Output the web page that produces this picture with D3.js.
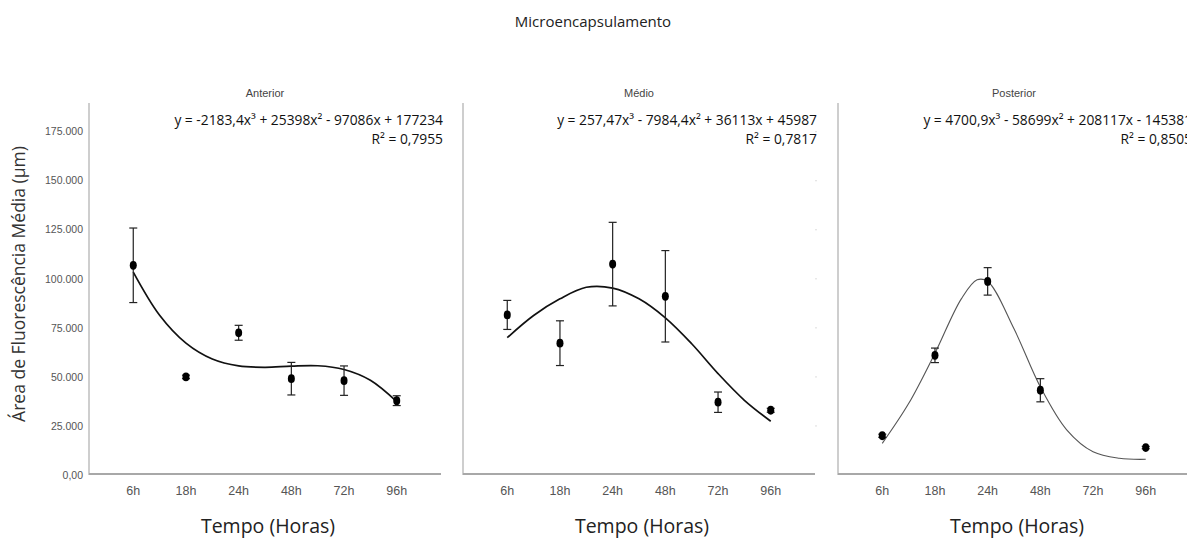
<!DOCTYPE html>
<html>
<head>
<meta charset="utf-8">
<script src="https://cdn.jsdelivr.net/npm/d3@7"></script>
<style>
  body { margin: 0; background: #fff; }
  svg { display: block; }
</style>
</head>
<body>
<svg id="chart" width="1187" height="538"></svg>
<script>
// Data
const timeLabels = ["6h", "18h", "24h", "48h", "72h", "96h"];
const yTicks = [0, 25000, 50000, 75000, 100000, 125000, 150000, 175000];

const anteriorMean = [106900, 50000, 72500, 49100, 48100, 37900];
const anteriorErr = [19000, 900, 3800, 8300, 7500, 2500];
const medioMean = [81600, 67200, 107500, 91100, 37100, 33000];
const medioErr = [7400, 11400, 21300, 23300, 5200, 1000];
const posteriorMean = [20000, 61000, 98700, 43200, null, 14000];
const posteriorErr = [800, 3700, 7000, 5900, null, 600];

// Trend curves (position in category steps from 6h, value)
const anteriorTrendX = [0, 0.5, 1, 1.5, 2, 2.5, 3, 3.5, 4, 4.5, 5];
const anteriorTrendY = [103400, 81400, 67200, 59100, 55600, 54900, 55500, 55700, 53800, 48300, 37400];
const medioTrendX = [0, 0.5, 1, 1.5, 2, 2.5, 3, 3.5, 4, 4.5, 5];
const medioTrendY = [70000, 81300, 89800, 95700, 95300, 89800, 80100, 66900, 51700, 38100, 27400];
const posteriorTrendX = [0, 0.5, 1, 1.5, 1.8, 2, 2.5, 3, 3.5, 4, 4.5, 5];
const posteriorTrendY = [16100, 36400, 62100, 89800, 99500, 98700, 74500, 44900, 23000, 11800, 8500, 8000];

const panelTitles = ["Anterior", "Médio", "Posterior"];
const equations = [
    "y = -2183,4x³ + 25398x² - 97086x + 177234",
    "y = 257,47x³ - 7984,4x² + 36113x + 45987",
    "y = 4700,9x³ - 58699x² + 208117x - 145381"
];
const r2Labels = ["R² = 0,7955", "R² = 0,7817", "R² = 0,8505"];

const svg = d3.select("#chart");
const panelX = [89, 463, 838];
const panelW = 352;
const yTop = 103;
const yBottom = 475;

const y = d3.scaleLinear().domain([0, 175000]).range([yBottom, 131.7]);
const x = d3.scalePoint().domain(timeLabels).range([0, panelW]).padding(0.84);
const step = x.step();

const panels = [
    { mean: anteriorMean, err: anteriorErr, tx: anteriorTrendX, ty: anteriorTrendY, lw: 1.7, lc: "#111" },
    { mean: medioMean, err: medioErr, tx: medioTrendX, ty: medioTrendY, lw: 1.7, lc: "#111" },
    { mean: posteriorMean, err: posteriorErr, tx: posteriorTrendX, ty: posteriorTrendY, lw: 1.1, lc: "#555" }
];

const narrow = "'Liberation Sans Narrow', 'Liberation Sans', Arial, sans-serif";

// Main title
svg.append("text")
    .attr("x", 593).attr("y", 27)
    .attr("text-anchor", "middle")
    .style("font-family", "'Open Sans', sans-serif")
    .style("font-size", "15px")
    .style("fill", "#222")
    .text("Microencapsulamento");

// Y axis title
svg.append("text")
    .attr("transform", "translate(25,284) rotate(-90)")
    .attr("text-anchor", "middle")
    .style("font-family", "'Open Sans', sans-serif")
    .style("font-size", "17.5px")
    .style("fill", "#333")
    .text("Área de Fluorescência Média (µm)");

// Y tick labels (first panel only)
svg.append("g").selectAll("text")
    .data(yTicks)
    .enter().append("text")
    .attr("x", 83)
    .attr("y", d => y(d))
    .attr("dy", "0.35em")
    .attr("text-anchor", "end")
    .style("font-family", narrow)
    .style("font-size", "10.5px")
    .style("fill", "#555")
    .text(d => d === 0 ? "0,00" : d3.format(",")(d).replace(/,/g, "."));

// faint leftover ticks on the right of the middle panel
svg.append("g").selectAll("line")
    .data(yTicks.slice(1))
    .enter().append("line")
    .attr("x1", 815).attr("x2", 817)
    .attr("y1", d => y(d)).attr("y2", d => y(d))
    .style("stroke", "#ddd");

panels.forEach((p, i) => {
    const g = svg.append("g").attr("transform", `translate(${panelX[i]},0)`);

    // axes
    g.append("line")
        .attr("x1", 0).attr("x2", 0)
        .attr("y1", yTop).attr("y2", yBottom)
        .style("stroke", "#b4b4b4").style("stroke-width", 1.3);
    g.append("line")
        .attr("x1", 0).attr("x2", panelW)
        .attr("y1", yBottom - 1).attr("y2", yBottom - 1)
        .style("stroke", "#a8a8a8").style("stroke-width", 2);

    g.append("g").selectAll("text")
        .data(timeLabels)
        .enter().append("text")
        .attr("x", d => x(d))
        .attr("y", 495)
        .attr("text-anchor", "middle")
        .style("font-family", narrow)
        .style("font-size", "12.5px")
        .style("fill", "#555")
        .text(d => d);

    g.append("text")
        .attr("x", panelW / 2 + 3).attr("y", 533)
        .attr("text-anchor", "middle")
        .style("font-family", "'Open Sans', sans-serif")
        .style("font-size", "19.5px")
        .style("fill", "#222")
        .text("Tempo (Horas)");

    // panel title
    g.append("text")
        .attr("x", panelW / 2).attr("y", 97)
        .attr("text-anchor", "middle")
        .style("font-family", "'Liberation Sans', Arial, sans-serif")
        .style("font-size", "11px")
        .style("fill", "#444")
        .text(panelTitles[i]);

    // equation labels
    g.append("text")
        .attr("x", panelW + 2).attr("y", 125)
        .attr("text-anchor", "end")
        .style("font-family", "'Open Sans', sans-serif")
        .style("font-size", "13.8px")
        .style("fill", "#111")
        .text(equations[i]);
    g.append("text")
        .attr("x", panelW + 2).attr("y", 144)
        .attr("text-anchor", "end")
        .style("font-family", "'Open Sans', sans-serif")
        .style("font-size", "13.8px")
        .style("fill", "#111")
        .text(r2Labels[i]);

    // trend line
    const trend = p.tx.map((t, k) => [x(timeLabels[0]) + t * step, y(p.ty[k])]);
    g.append("path")
        .datum(trend)
        .attr("d", d3.line().curve(d3.curveCatmullRom.alpha(0.5)))
        .style("fill", "none")
        .style("stroke", p.lc)
        .style("stroke-width", p.lw);

    // error bars and means
    const pts = timeLabels.map((t, k) => ({ t, m: p.mean[k], e: p.err[k] })).filter(d => d.m != null);
    const eb = g.append("g").selectAll("g")
        .data(pts)
        .enter().append("g");
    eb.append("line")
        .attr("x1", d => x(d.t)).attr("x2", d => x(d.t))
        .attr("y1", d => y(d.m - d.e)).attr("y2", d => y(d.m + d.e))
        .style("stroke", "#222").style("stroke-width", 1.2);
    [-1, 1].forEach(s => {
        eb.append("line")
            .attr("x1", d => x(d.t) - 4).attr("x2", d => x(d.t) + 4)
            .attr("y1", d => y(d.m + s * d.e)).attr("y2", d => y(d.m + s * d.e))
            .style("stroke", "#222").style("stroke-width", 1.2);
    });
    eb.append("ellipse")
        .attr("cx", d => x(d.t)).attr("cy", d => y(d.m))
        .attr("rx", 3.5).attr("ry", 4.4)
        .style("fill", "#000");
});
</script>
</body>
</html>
